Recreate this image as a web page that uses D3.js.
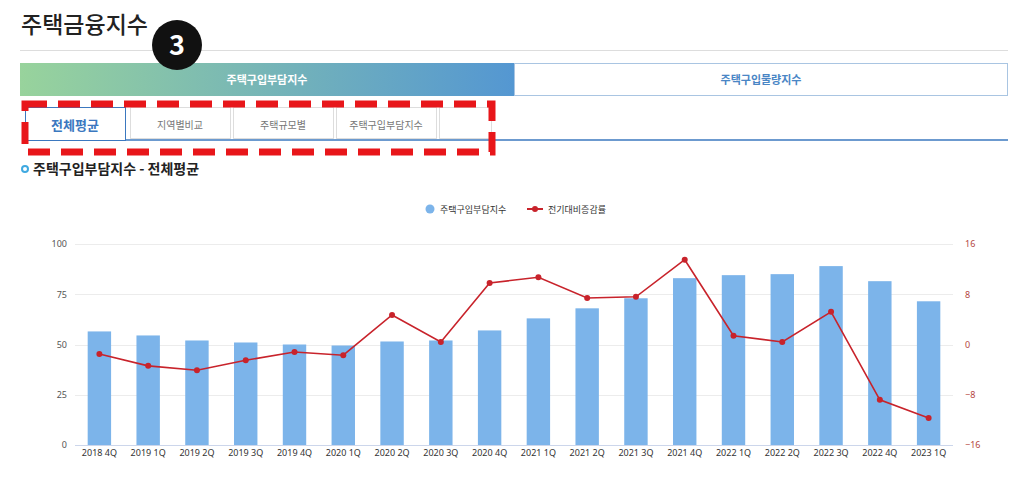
<!DOCTYPE html>
<html>
<head>
<meta charset="utf-8">
<script src="https://cdn.jsdelivr.net/npm/d3@7"></script>
<style>
  body { margin: 0; background: #fff; font-family: "Noto Sans CJK KR", "Noto Sans", sans-serif; }
</style>
</head>
<body>
<svg id="chart" width="1024" height="497"></svg>
<script>
"use strict";

const quarters = ["2018 4Q", "2019 1Q", "2019 2Q", "2019 3Q", "2019 4Q", "2020 1Q", "2020 2Q", "2020 3Q", "2020 4Q",
  "2021 1Q", "2021 2Q", "2021 3Q", "2021 4Q", "2022 1Q", "2022 2Q", "2022 3Q", "2022 4Q", "2023 1Q"];
const burdenIndex = [56.5, 54.5, 52, 51, 50, 49.5, 51.5, 52, 57, 63, 68, 73, 83, 84.5, 85, 89, 81.5, 71.5];
const changeRate = [-1.5, -3.4, -4.1, -2.5, -1.2, -1.7, 4.7, 0.4, 9.8, 10.7, 7.4, 7.6, 13.5, 1.4, 0.4, 5.2, -8.8, -11.7];
const leftTicks = [0, 25, 50, 75, 100];
const rightTicks = [-16, -8, 0, 8, 16];
const subTabs = ["전체평균", "지역별비교", "주택규모별", "주택구입부담지수"];

const svg = d3.select("#chart");

// header
svg.append("text").attr("x", 21).attr("y", 33).attr("font-size", 23).attr("font-weight", 500)
  .attr("fill", "#222").text("주택금융지수");
svg.append("line").attr("x1", 20).attr("x2", 1008).attr("y1", 50.5).attr("y2", 50.5).attr("stroke", "#ddd");

// top tabs
const grad = svg.append("defs").append("linearGradient").attr("id", "g1");
grad.append("stop").attr("offset", "0%").attr("stop-color", "#98d39c");
grad.append("stop").attr("offset", "100%").attr("stop-color", "#5497d2");
svg.append("rect").attr("x", 20).attr("y", 63).attr("width", 494).attr("height", 33).attr("fill", "url(#g1)");
svg.append("text").attr("x", 267).attr("y", 84).attr("text-anchor", "middle").attr("font-size", 11)
  .attr("font-weight", 700).attr("fill", "#fff").text("주택구입부담지수");
svg.append("rect").attr("x", 514.5).attr("y", 63.5).attr("width", 493).attr("height", 32).attr("fill", "#fff").attr("stroke", "#a9c5e2");
svg.append("text").attr("x", 761).attr("y", 84).attr("text-anchor", "middle").attr("font-size", 11)
  .attr("font-weight", 700).attr("fill", "#4a86c5").text("주택구입물량지수");

// badge
svg.append("circle").attr("cx", 177).attr("cy", 45).attr("r", 25).attr("fill", "#111");
svg.append("text").attr("x", 177).attr("y", 55).attr("text-anchor", "middle").attr("font-size", 27)
  .attr("font-weight", 700).attr("fill", "#fff").text("3");

// sub tabs
svg.append("line").attr("x1", 125).attr("x2", 1008).attr("y1", 140).attr("y2", 140).attr("stroke", "#3b78bf").attr("stroke-width", 1.5);
subTabs.forEach((t, i) => {
  const x = i === 0 ? 25 : 130 + (i - 1) * 103;
  const w = i === 0 ? 100 : 100;
  svg.append("rect").attr("x", x + 0.5).attr("y", 107.5).attr("width", w).attr("height", i === 0 ? 33 : 31)
    .attr("fill", "#fff").attr("stroke", i === 0 ? "#3b78bf" : "#ddd");
  svg.append("text").attr("x", x + w / 2).attr("y", i === 0 ? 130 : 129).attr("text-anchor", "middle")
    .attr("font-size", i === 0 ? 13 : 10).attr("font-weight", i === 0 ? 700 : 400)
    .attr("fill", i === 0 ? "#3b78bf" : "#777").text(t);
});
svg.append("rect").attr("x", 439.5).attr("y", 107.5).attr("width", 52).attr("height", 31).attr("fill", "none").attr("stroke", "#ddd");
svg.append("rect").attr("x", 25).attr("y", 104).attr("width", 467).attr("height", 48).attr("fill", "none")
  .attr("stroke", "#e8161a").attr("stroke-width", 7).attr("stroke-dasharray", "22,11");

// subtitle
svg.append("circle").attr("cx", 25).attr("cy", 169).attr("r", 3).attr("fill", "none").attr("stroke", "#3fa9e0").attr("stroke-width", 2);
svg.append("text").attr("x", 33).attr("y", 174).attr("font-size", 14).attr("font-weight", 700).attr("fill", "#222")
  .text("주택구입부담지수 - 전체평균");

// legend
svg.append("circle").attr("cx", 430).attr("cy", 209).attr("r", 4.5).attr("fill", "#7cb4ea");
svg.append("text").attr("x", 440).attr("y", 213).attr("font-size", 9).attr("fill", "#333").text("주택구입부담지수");
svg.append("line").attr("x1", 527).attr("x2", 543).attr("y1", 209).attr("y2", 209).attr("stroke", "#c8232b").attr("stroke-width", 2);
svg.append("circle").attr("cx", 535).attr("cy", 209).attr("r", 3).attr("fill", "#c8232b");
svg.append("text").attr("x", 548).attr("y", 213).attr("font-size", 9).attr("fill", "#333").text("전기대비증감률");

// scales
const x = d3.scaleBand().domain(quarters).range([75, 953]).paddingInner(0.52).paddingOuter(0.26);
const yL = d3.scaleLinear().domain([0, 100]).range([445, 244]);
const yR = d3.scaleLinear().domain([-16, 16]).range([445, 244]);

// grid
svg.append("g").selectAll("line").data(leftTicks).join("line")
  .attr("x1", 75).attr("x2", 953).attr("y1", d => Math.round(yL(d)) + 0.5).attr("y2", d => Math.round(yL(d)) + 0.5)
  .attr("stroke", d => d === 0 ? "#ccd6eb" : "#ececec");

// axes
const axL = svg.append("g").attr("transform", "translate(70,0)")
  .call(d3.axisLeft(yL).tickValues(leftTicks).tickSize(0));
axL.select(".domain").remove();
axL.selectAll("text").attr("font-size", 9).attr("fill", "#555").attr("font-family", "Noto Sans, sans-serif");

const axR = svg.append("g").attr("transform", "translate(962,0)")
  .call(d3.axisRight(yR).tickValues(rightTicks).tickSize(0));
axR.select(".domain").remove();
axR.selectAll("text").attr("font-size", 9).attr("fill", "#b5473f").attr("font-family", "Noto Sans, sans-serif");

const axB = svg.append("g").attr("transform", "translate(0,447)")
  .call(d3.axisBottom(x).tickSize(0));
axB.select(".domain").remove();
axB.selectAll("text").attr("font-size", 9).attr("fill", "#333").attr("font-family", "Noto Sans, sans-serif");

// bars
svg.append("g").selectAll("rect").data(burdenIndex).join("rect")
  .attr("x", (d, i) => x(quarters[i])).attr("width", x.bandwidth())
  .attr("y", d => yL(d)).attr("height", d => yL(0) - yL(d)).attr("fill", "#7cb4ea");

// line
const cx = i => x(quarters[i]) + x.bandwidth() / 2;
svg.append("path").datum(changeRate)
  .attr("d", d3.line().x((d, i) => cx(i)).y(d => yR(d)))
  .attr("fill", "none").attr("stroke", "#c8232b").attr("stroke-width", 1.6);
svg.append("g").selectAll("circle").data(changeRate).join("circle")
  .attr("cx", (d, i) => cx(i)).attr("cy", d => yR(d)).attr("r", 3).attr("fill", "#c8232b");
</script>
</body>
</html>
